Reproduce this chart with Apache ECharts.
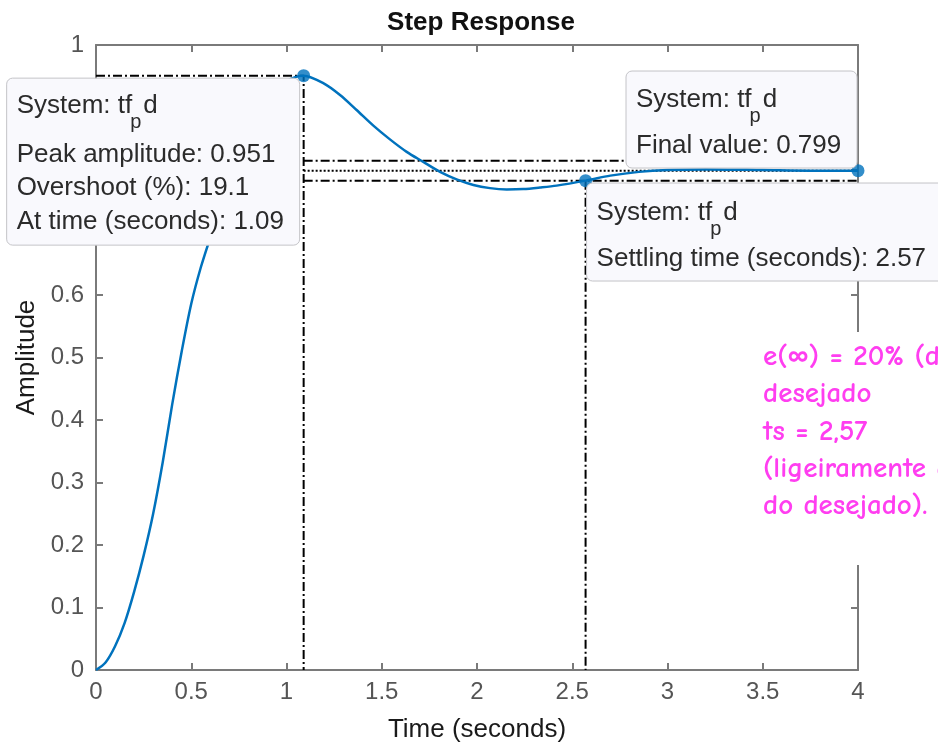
<!DOCTYPE html>
<html>
<head>
<meta charset="utf-8">
<script src="https://cdn.jsdelivr.net/npm/echarts@6/dist/echarts.min.js"></script>
<style>
  html, body { margin: 0; padding: 0; background: #ffffff; }
  #chart { width: 938px; height: 744px; }
</style>
</head>
<body>
<div id="chart"></div>
<script>
// Step response of tf_pd: time samples (s) and amplitude
const timeSec = [0, 0.05, 0.1, 0.15, 0.2, 0.25, 0.3, 0.35, 0.4, 0.45, 0.5, 0.55, 0.6, 0.65,
  0.7, 0.8, 0.9, 1.0, 1.09, 1.193, 1.281, 1.368, 1.456, 1.543, 1.631, 1.718, 1.806,
  1.893, 1.981, 2.068, 2.156, 2.243, 2.331, 2.418, 2.57, 2.7, 2.85, 3.0, 3.2, 3.5, 3.75, 4.0];
const amplitude = [0, 0.012, 0.038, 0.075, 0.125, 0.183, 0.25, 0.332, 0.425, 0.51, 0.586, 0.644, 0.692, 0.738,
  0.78, 0.86, 0.913, 0.942, 0.951, 0.939, 0.92, 0.896, 0.871, 0.849, 0.829, 0.813, 0.797,
  0.785, 0.776, 0.771, 0.769, 0.7696, 0.772, 0.775, 0.783, 0.791, 0.797, 0.8, 0.801, 0.8, 0.799, 0.799];

// Step characteristics
const peakTime = 1.09;
const peakAmplitude = 0.951;
const overshootPct = 19.1;
const finalValue = 0.799;
const finalTime = 4;
const settlingTime = 2.57;
const settlingAmplitude = 0.783;
const settlingUpper = 0.815;
const settlingLower = 0.783;

// Axis ranges / tick steps
const xRange = [0, 4];
const xStep = 0.5;
const yRange = [0, 1];
const yStep = 0.1;

// Hand-written note
const noteLines = ['e(\u221E) = 20% (dentro do', 'desejado', 'ts = 2,57', '(ligeiramente acima', 'do desejado).'];

const BLUE = '#0072BD';
const AXIS = '#7a7a7a';
const FONT = "'Liberation Sans', Arial, Helvetica, sans-serif";
const DASHDOT = [9, 3, 2, 3];

const curve = timeSec.map((t, i) => [t, amplitude[i]]);
const fmt = v => String(+v.toFixed(2));

const chart = echarts.init(document.getElementById('chart'), null, { renderer: 'canvas' });

function refLine(data, dash) {
  return {
    type: 'line', data, symbol: 'none', silent: true, z: 2,
    lineStyle: { color: '#000', width: 2, type: dash }
  };
}

const commonX = {
  type: 'value', min: xRange[0], max: xRange[1], interval: xStep,
  axisLine: { show: true, onZero: false, lineStyle: { color: AXIS, width: 2 } },
  axisTick: { show: true, inside: true, length: 7, lineStyle: { color: AXIS, width: 2 } },
  splitLine: { show: false }
};
const commonY = {
  type: 'value', min: yRange[0], max: yRange[1], interval: yStep,
  axisLine: { show: true, onZero: false, lineStyle: { color: AXIS, width: 2 } },
  axisTick: { show: true, inside: true, length: 7, lineStyle: { color: AXIS, width: 2 } },
  splitLine: { show: false }
};

chart.setOption({
  animation: false,
  backgroundColor: '#ffffff',
  title: {
    text: 'Step Response', left: 476, top: 5, textAlign: 'center',
    textStyle: { fontFamily: FONT, fontSize: 26, fontWeight: 'bold', color: '#111' }
  },
  grid: { left: 96, right: 80, top: 45, bottom: 74, containLabel: false, outerBoundsMode: 'none' },
  xAxis: [
    Object.assign({}, commonX, {
      position: 'bottom',
      name: 'Time (seconds)', nameLocation: 'middle', nameGap: 47,
      nameTextStyle: { fontFamily: FONT, fontSize: 26, color: '#1a1a1a' },
      axisLabel: { fontFamily: FONT, fontSize: 24, color: '#555', margin: 10, formatter: fmt }
    }),
    Object.assign({}, commonX, { position: 'top', axisLabel: { show: false } })
  ],
  yAxis: [
    Object.assign({}, commonY, {
      position: 'left',
      name: 'Amplitude', nameLocation: 'middle', nameGap: 50,
      nameTextStyle: { fontFamily: FONT, fontSize: 26, color: '#1a1a1a' },
      axisLabel: { fontFamily: FONT, fontSize: 24, color: '#555', margin: 12, formatter: fmt }
    }),
    Object.assign({}, commonY, { position: 'right', axisLabel: { show: false } })
  ],
  series: [
    // peak amplitude guides
    refLine([[xRange[0], peakAmplitude], [peakTime, peakAmplitude], [peakTime, yRange[0]]], DASHDOT),
    // settling band and final value
    refLine([[peakTime, settlingUpper], [finalTime, settlingUpper]], DASHDOT),
    refLine([[peakTime, settlingLower], [finalTime, settlingLower]], DASHDOT),
    refLine([[peakTime, finalValue], [finalTime, finalValue]], [2, 2]),
    // settling time guide
    refLine([[settlingTime, settlingAmplitude], [settlingTime, yRange[0]]], DASHDOT),
    {
      type: 'line', data: curve, symbol: 'none', smooth: 0.3, z: 3,
      lineStyle: { color: BLUE, width: 2.5 }
    },
    {
      type: 'scatter', z: 4, symbolSize: 13,
      itemStyle: { color: BLUE },
      data: [[peakTime, peakAmplitude], [settlingTime, settlingAmplitude], [finalTime, finalValue]]
    }
  ]
});

// text measuring for the "tf_p d" subscript rows
const measureCtx = document.createElement('canvas').getContext('2d');
function textWidth(str, size) {
  measureCtx.font = size + 'px ' + FONT;
  return measureCtx.measureText(str).width;
}

const TIP_SIZE = 26;
const SUB_SIZE = 20;
const TIP_COLOR = '#2b2b2b';
const TOP_Z = 100;

function textEl(x, y, str, size, z) {
  return {
    type: 'text', x: x, y: y, z: z,
    style: { text: str, fontFamily: FONT, fontSize: size, fill: TIP_COLOR, verticalAlign: 'middle', align: 'left' }
  };
}
function systemRow(x, cy, z) {
  const w1 = textWidth('System: tf', TIP_SIZE);
  const wp = textWidth('p', SUB_SIZE);
  return [
    textEl(x, cy, 'System: tf', TIP_SIZE, z),
    textEl(x + w1 - 2, cy + 16, 'p', SUB_SIZE, z),
    textEl(x + w1 - 2 + wp + 2, cy, 'd', TIP_SIZE, z)
  ];
}
function tipBox(left, top, w, h, rows) {
  const children = [{
    type: 'rect', z: TOP_Z, shape: { x: left, y: top, width: w, height: h, r: 6 },
    style: { fill: '#f9f9fd', stroke: '#c4c4c8', lineWidth: 1 }
  }];
  rows.forEach(r => {
    if (r.system) children.push(...systemRow(left + 10, top + r.dy, TOP_Z + 1));
    else children.push(textEl(left + 10, top + r.dy, r.text, TIP_SIZE, TOP_Z + 1));
  });
  return { type: 'group', children };
}

function drawAnnotations() {
  const pk = chart.convertToPixel({ xAxisIndex: 0, yAxisIndex: 0 }, [peakTime, peakAmplitude]);
  const fv = chart.convertToPixel({ xAxisIndex: 0, yAxisIndex: 0 }, [finalTime, finalValue]);
  const st = chart.convertToPixel({ xAxisIndex: 0, yAxisIndex: 0 }, [settlingTime, settlingAmplitude]);

  const peakBox = tipBox(pk[0] - 4 - 293, pk[1] + 2.5, 293, 167, [
    { system: true, dy: 28 },
    { text: 'Peak amplitude: ' + peakAmplitude, dy: 77 },
    { text: 'Overshoot (%): ' + overshootPct, dy: 110 },
    { text: 'At time (seconds): ' + peakTime, dy: 144 }
  ]);
  const finalBox = tipBox(fv[0] - 1 - 231, fv[1] - 2.6 - 97, 231, 97, [
    { system: true, dy: 29 },
    { text: 'Final value: ' + finalValue, dy: 75 }
  ]);
  const settleBox = tipBox(st[0] + 1, st[1] + 2.4, 420, 98, [
    { system: true, dy: 30 },
    { text: 'Settling time (seconds): ' + settlingTime, dy: 76 }
  ]);

  const noteX = 763, noteTop = 357, noteGap = 37.2;
  const note = {
    type: 'group',
    children: [{
      type: 'rect', z: 90, shape: { x: 752, y: 332, width: 200, height: 233 },
      style: { fill: '#ffffff' }
    }].concat(noteLines.map((s, i) => ({
      type: 'text', z: 91, x: noteX, y: noteTop + i * noteGap,
      style: {
        text: s, fontFamily: "'Comic Sans MS', 'Comic Neue', Lato, sans-serif",
        fontSize: 29, fontWeight: 'bold', fill: '#ff3ef0', verticalAlign: 'middle', align: 'left'
      }
    })))
  };

  chart.setOption({ graphic: [note, peakBox, finalBox, settleBox] });
}
drawAnnotations();
</script>
</body>
</html>
